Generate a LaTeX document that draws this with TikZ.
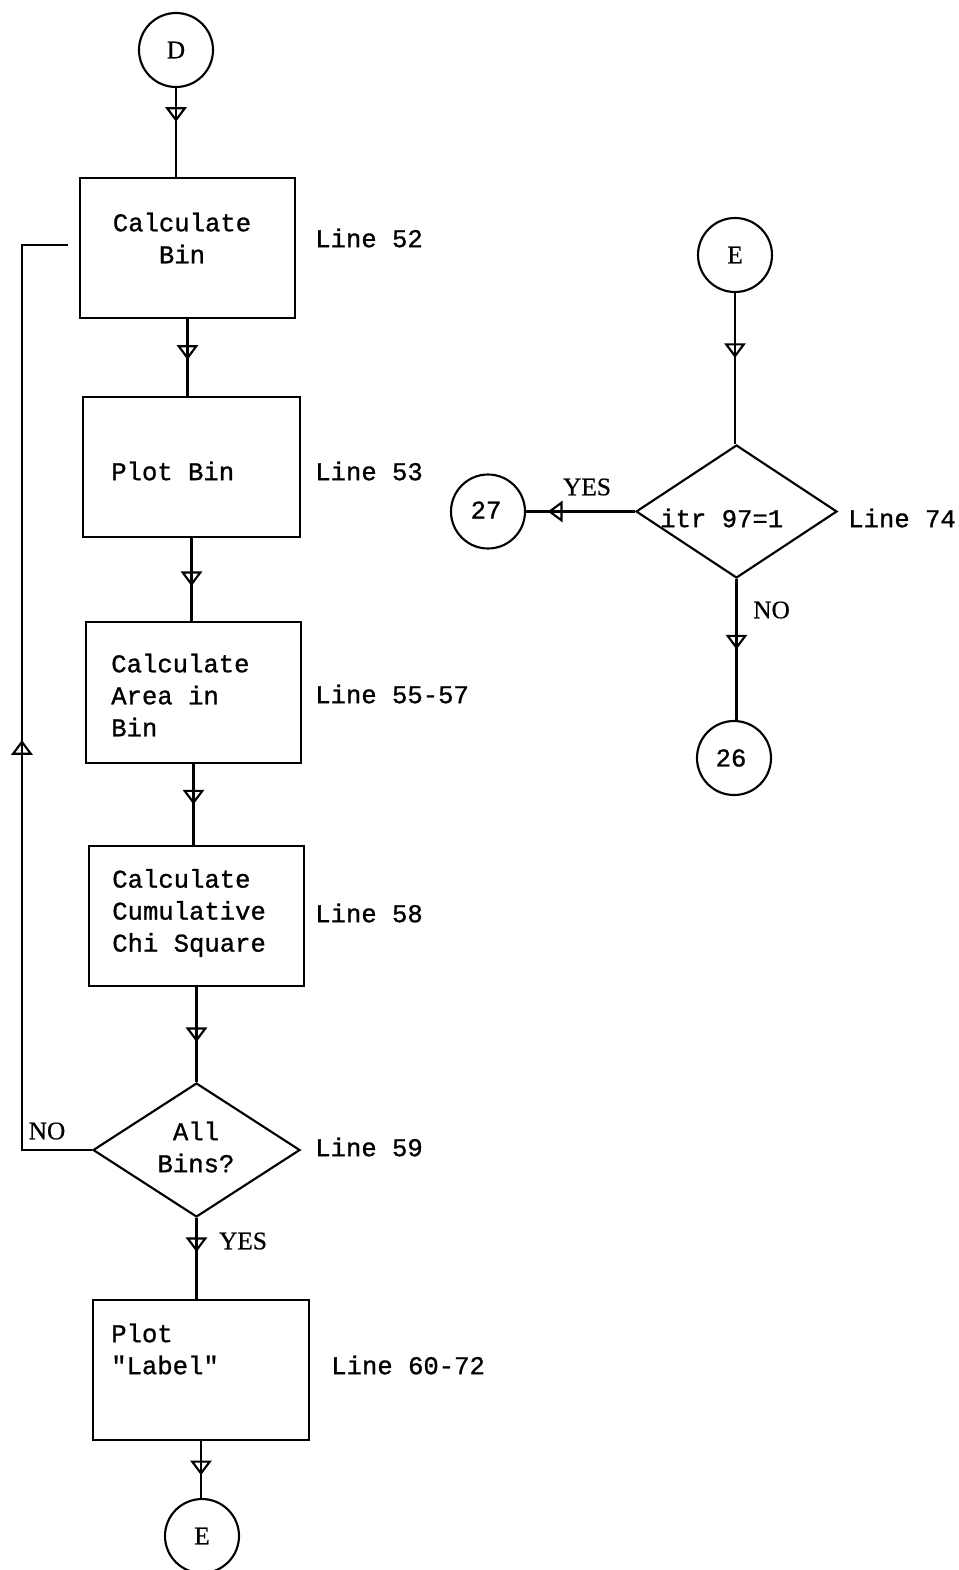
\documentclass[tikz,border=0pt]{standalone}
\usepackage{fontspec}
\setmainfont[BoldFont=Liberation Serif,BoldFeatures={FakeBold=0.6}]{Liberation Serif}
\setmonofont[BoldFont=Liberation Mono,BoldFeatures={FakeBold=1.0}]{Liberation Mono}
\usetikzlibrary{arrows.meta,shapes.geometric,decorations.markings}
\begin{document}
\begin{tikzpicture}[x=0.75pt,y=-0.75pt,
  lw/.style={line width=1.6pt},
  procbox/.style={draw,lw,minimum width=#1,minimum height=105pt,inner sep=0pt},
  decide/.style={draw,lw,shape=diamond,inner sep=0pt},
  conn/.style={draw,lw,circle,minimum size=55.5pt,inner sep=0pt,font=\fontsize{19pt}{22pt}\selectfont\bfseries},
  mono/.style={font=\fontsize{19.2pt}{24pt}\selectfont\ttfamily\bfseries,inner sep=0pt},
  serifl/.style={font=\fontsize{19pt}{22pt}\selectfont\bfseries,inner sep=0pt},
  flow/.style={lw,postaction={decorate},decoration={markings,mark=at position #1 with {\arrow{Triangle[open,width=16pt,length=11pt]}}}}
]
\useasboundingbox (0,0) rectangle (959,1570);
\fill[white] (0,0) rectangle (959,1570);

% left column
\node[conn] (D) at (176,50) {D};
\node[procbox=161.25pt] (b1) at (187.5,248) {};
\node[procbox=162.75pt] (b2) at (191.5,467) {};
\node[procbox=161.25pt,minimum height=105.75pt] (b3) at (193.5,692.5) {};
\node[procbox=161.25pt] (b4) at (196.5,916) {};
\node[decide,minimum width=155.25pt,minimum height=100.5pt] (d1) at (196.5,1150) {};
\node[procbox=162pt] (b5) at (201,1370) {};
\node[conn] (E1) at (202,1536) {E};

\node[mono,align=center] (t1) at (182,238) {Calculate\\Bin};
\node[mono,anchor=west] (t2) at (111,471) {Plot Bin};
\node[mono,anchor=west,align=left] (t3) at (111,695) {Calculate\\Area in\\Bin};
\node[mono,anchor=west,align=left] (t4) at (112,913) {Calculate\\Cumulative\\Chi Square};
\node[mono,align=center] (t6) at (196,1147) {All\\Bins?};
\node[mono,anchor=west,align=left] (t5) at (111,1349) {Plot\\"Label"};

\node[mono,anchor=west] (l1) at (315,238) {Line 52};
\node[mono,anchor=west] (l2) at (315,471) {Line 53};
\node[mono,anchor=west] (l3) at (315,694) {Line 55-57};
\node[mono,anchor=west] (l4) at (315,913) {Line 58};
\node[mono,anchor=west] (l5) at (315,1147) {Line 59};
\node[mono,anchor=west] (l6) at (331,1365) {Line 60-72};

\node[serifl] (no1) at (47,1131) {NO};
\node[serifl] (yes1) at (243,1241) {YES};

\draw[flow=0.38] (D) -- (D |- b1.north);
\draw[flow=0.53] (b1.south) -- (b1.south |- b2.north);
\draw[flow=0.58] (b2.south) -- (b2.south |- b3.north);
\draw[flow=0.5] (b3.south) -- (b3.south |- b4.north);
\draw[flow=0.58] (b4.south) -- (b4.south |- d1.north);
\draw[flow=0.42] (d1.south) -- (d1.south |- b5.north);
\draw[flow=0.6] (b5.south) -- (b5.south |- E1.north);

\coordinate (nl) at (68,245);
\draw[flow=0.47] (d1.west) -- ++(-70,0) |- (nl);

% right column
\node[conn] (E2) at (735,255) {E};
\node[decide,minimum width=150.75pt,minimum height=99.75pt] (d2) at (736.5,511.5) {};
\node[conn] (c27) at (488,511.5) {};
\node[conn] (c26) at (734,758) {};

\node[mono] (n27) at (486,510) {27};
\node[mono] (n26) at (731,758) {26};
\node[mono,anchor=west] (t7) at (660,518) {itr 97=1};
\node[mono,anchor=west] (l7) at (848,518) {Line 74};
\node[serifl] (yes2) at (587,487) {YES};
\node[serifl,anchor=west] (no2) at (753,610) {NO};

\draw[flow=0.43] (E2) -- (E2 |- d2.north);
\draw[flow=0.5] (d2.south) -- (d2.south |- c26.north);
\draw[flow=0.8] (d2.west) -- (c27);
\end{tikzpicture}
\end{document}
